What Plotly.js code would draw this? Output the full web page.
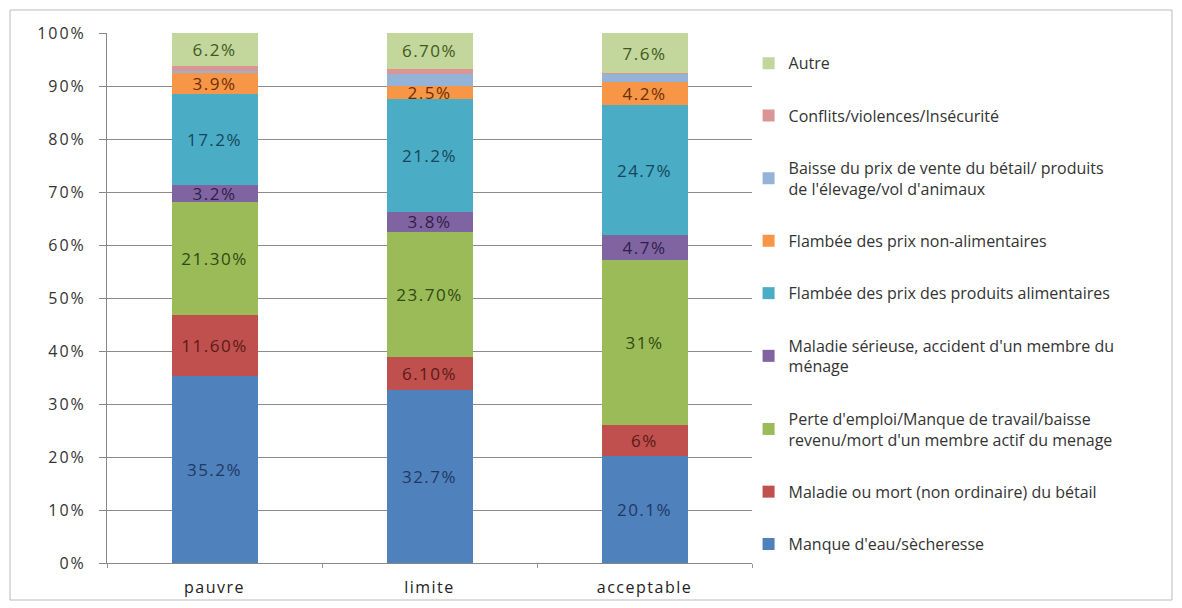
<!DOCTYPE html>
<html>
<head>
<meta charset="utf-8">
<script src="https://cdn.plot.ly/plotly-3.0.1.min.js"></script>
<style>
  html, body { margin: 0; padding: 0; background: #ffffff; }
  #chart { width: 1182px; height: 608px; }
  #chart .xtick text { letter-spacing: 1.5px; }
  #chart .ytick text { letter-spacing: 2px; }
  #chart .bartext { letter-spacing: 1.5px; }
</style>
</head>
<body>
<div id="chart"></div>
<script>
const categories = ["pauvre", "limite", "acceptable"];

const seriesNames = [
  "Manque d'eau/sècheresse",
  "Maladie ou mort (non ordinaire) du bétail",
  "Perte d'emploi/Manque de travail/baisse<br>revenu/mort d'un membre actif du menage",
  "Maladie sérieuse, accident d'un membre du<br>ménage",
  "Flambée des prix des produits alimentaires",
  "Flambée des prix non-alimentaires",
  "Baisse du prix de vente du bétail/ produits<br>de l'élevage/vol d'animaux",
  "Conflits/violences/Insécurité",
  "Autre"
];

const manqueEau      = [35.2, 32.7, 20.1];
const maladieBetail  = [11.6, 6.1, 6.0];
const perteEmploi    = [21.3, 23.7, 31.0];
const maladieSerieuse= [3.2, 3.8, 4.7];
const flambeeAlim    = [17.2, 21.2, 24.7];
const flambeeNonAlim = [3.9, 2.5, 4.2];
const baissePrix     = [0.4, 2.2, 1.5];
const conflits       = [1.0, 1.1, 0.2];
const autre          = [6.2, 6.7, 7.6];

const labManqueEau       = ["35.2%", "32.7%", "20.1%"];
const labMaladieBetail   = ["11.60%", "6.10%", "6%"];
const labPerteEmploi     = ["21.30%", "23.70%", "31%"];
const labMaladieSerieuse = ["3.2%", "3.8%", "4.7%"];
const labFlambeeAlim     = ["17.2%", "21.2%", "24.7%"];
const labFlambeeNonAlim  = ["3.9%", "2.5%", "4.2%"];
const labAutre           = ["6.2%", "6.70%", "7.6%"];

const yTickVals = [0,10,20,30,40,50,60,70,80,90,100];
const yTickText = ["0%","10%","20%","30%","40%","50%","60%","70%","80%","90%","100%"];

const values = [manqueEau, maladieBetail, perteEmploi, maladieSerieuse, flambeeAlim, flambeeNonAlim, baissePrix, conflits, autre];
const labels = [labManqueEau, labMaladieBetail, labPerteEmploi, labMaladieSerieuse, labFlambeeAlim, labFlambeeNonAlim, null, null, labAutre];
const colors = ["#4F81BD", "#C0504D", "#9BBB59", "#8064A2", "#4BACC6", "#F79646", "#95B3D7", "#D99694", "#C3D69B"];
const textColors = ["#1F3864", "#5A1A18", "#2E4A10", "#2E1F4A", "#15475A", "#6B2E05", "#333", "#333", "#3D5A1E"];

const traces = values.map((v, i) => ({
  type: "bar",
  name: seriesNames[i],
  x: categories,
  y: v,
  legendgroup: "g" + i,
  legendrank: 100 - i,
  marker: { color: colors[i], line: { width: 0 } },
  text: labels[i] || undefined,
  textposition: labels[i] ? "inside" : "none",
  insidetextanchor: "middle",
  textangle: 0,
  constraintext: "none",
  textfont: { family: "Open Sans, sans-serif", size: 17, color: textColors[i] },
  hoverinfo: "name+y"
}));

const plotW = 1182 - 107 - 430, plotH = 608 - 33 - 45;

const layout = {
  width: 1182,
  height: 608,
  barmode: "stack",
  bargap: 0.6,
  paper_bgcolor: "#ffffff",
  plot_bgcolor: "#ffffff",
  margin: { l: 107, r: 430, t: 33, b: 45 },
  font: { family: "Open Sans, sans-serif", color: "#333" },
  xaxis: {
    type: "category",
    showline: true,
    linecolor: "#888",
    linewidth: 1,
    ticks: "outside",
    tickson: "boundaries",
    ticklen: 4,
    tickcolor: "#999",
    ticklabelstandoff: 10,
    tickfont: { size: 16, color: "#222" },
    showgrid: false
  },
  yaxis: {
    range: [0, 100],
    tickvals: yTickVals,
    ticktext: yTickText,
    showgrid: true,
    gridcolor: "#8c8c8c",
    gridwidth: 1,
    showline: true,
    linecolor: "#888",
    ticks: "outside",
    ticklen: 7,
    tickcolor: "#888",
    ticklabelstandoff: 10,
    tickfont: { size: 16, color: "#333" },
    zeroline: false
  },
  legend: {
    x: 0.9947,
    xanchor: "left",
    y: 0.975,
    yanchor: "top",
    traceorder: "grouped",
    tracegroupgap: 28.5,
    font: { size: 16, color: "#333" },
    bgcolor: "rgba(0,0,0,0)"
  },
  shapes: [{
    type: "rect", xref: "paper", yref: "paper",
    x0: (10 - 107) / plotW,
    x1: (1172 - 107) / plotW,
    y0: (563 - 600) / plotH,
    y1: (563 - 10) / plotH,
    line: { color: "#bbbbbb", width: 1 }
  }]
};

Plotly.newPlot("chart", traces, layout, { displayModeBar: false, staticPlot: true });
</script>
</body>
</html>
